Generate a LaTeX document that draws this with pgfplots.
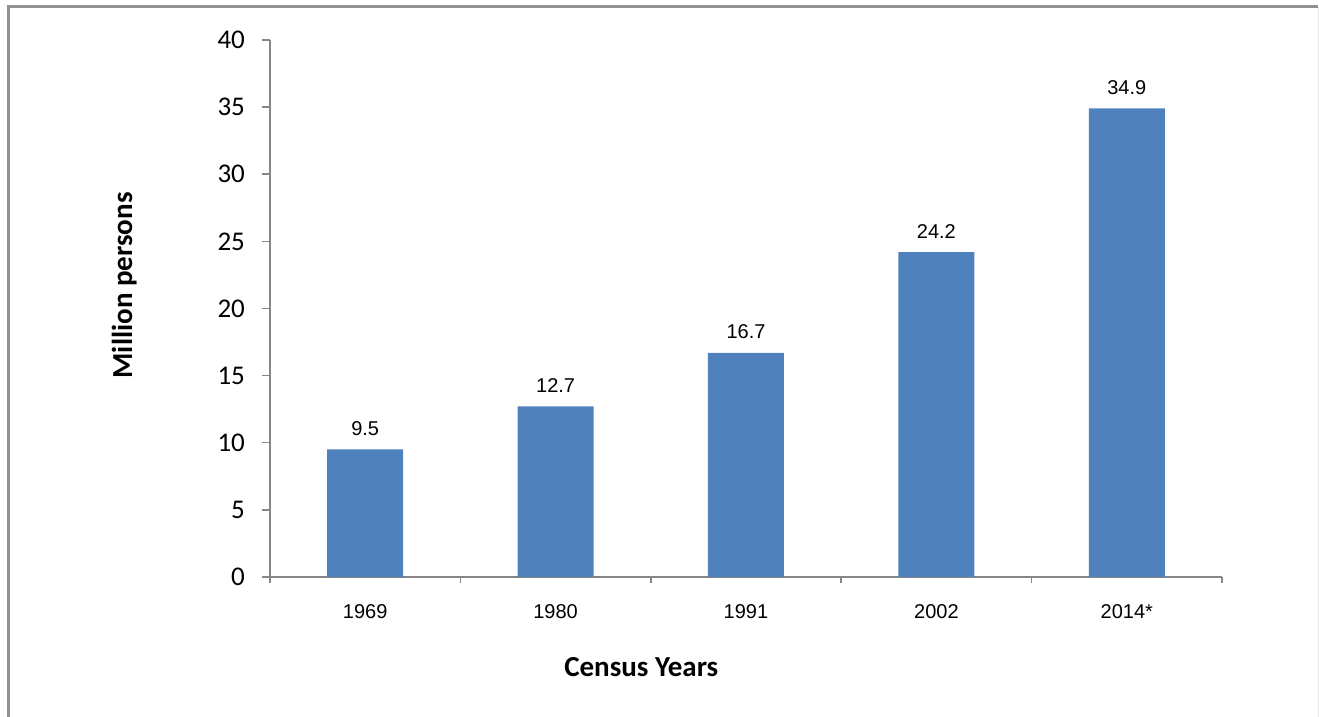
\documentclass[border=0pt]{standalone}
\usepackage{fontspec}
\setmainfont{Carlito}
\newfontfamily\arial{Liberation Sans}
\usepackage{pgfplots}
\pgfplotsset{compat=1.18}
\definecolor{barblue}{HTML}{4F81BD}
\definecolor{axgray}{HTML}{868686}

\begin{document}
\begin{tikzpicture}
% picture size: 1319x717 px at 0.5pt per px
\path[use as bounding box] (-135pt,-70pt) rectangle (524.5pt,288.5pt);
\begin{axis}[
    at={(0,0)}, anchor=south west,
    scale only axis,
    width=476pt, height=268.5pt,
    xmin=-0.5, xmax=4.5,
    ymin=0, ymax=40,
    axis x line*=bottom,
    axis y line*=left,
    axis line style={axgray, line width=0.75pt},
    ytick={0,5,...,40},
    xtick={0,...,4},
    xticklabels={1969,1980,1991,2002,2014*},
    minor xtick={-0.5,0.5,...,4.5},
    tick align=outside,
    major tick length=4pt,
    minor tick length=3pt,
    major x tick style={draw=none},
    every tick/.style={axgray, line width=0.75pt},
    minor tick style={axgray, line width=0.75pt},
    /pgf/number format/assume math mode=true,
    yticklabel style={font=\fontsize{13.5}{16}\selectfont, xshift=-5pt},
    xticklabel style={font=\arial\fontsize{10}{12}\selectfont, anchor=base, yshift=-17pt},
    ylabel={\bfseries Million persons},
    xlabel={\bfseries Census Years},
    label style={font=\fontsize{14.5}{17}\selectfont},
    ylabel style={at={(axis description cs:-0.153,0.543)}, anchor=center},
    xlabel style={at={(axis description cs:0.39,-0.168)}, anchor=center},
    ybar, bar width=38pt,
    point meta=explicit symbolic,
    nodes near coords,
    every node near coord/.append style={font=\arial\fontsize{10}{12}\selectfont, anchor=base, yshift=7pt, inner sep=0pt},
]
\addplot[fill=barblue, draw=none] coordinates {
    (0,9.5)[9.5] (1,12.7)[12.7] (2,16.7)[16.7] (3,24.2)[24.2] (4,34.9)[34.9]
};
\end{axis}
% outer frame
\draw[axgray!90, line width=1.5pt] (-130.75pt,-70pt) -- (-130.75pt,285pt) -- (524pt,285pt);
\draw[gray!20, line width=0.5pt] (524pt,285pt) -- (524pt,-70pt);
\end{tikzpicture}
\end{document}
